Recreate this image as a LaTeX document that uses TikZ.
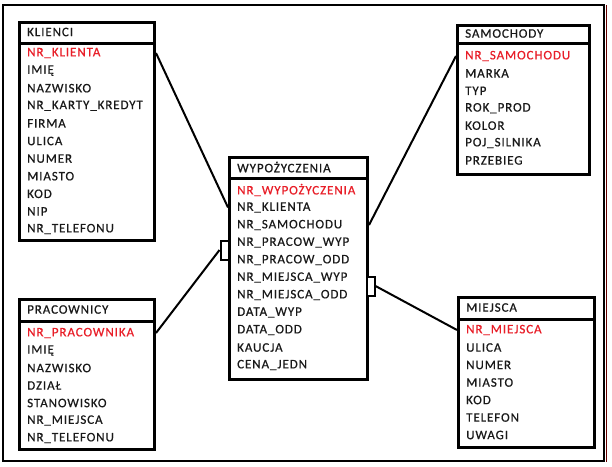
\documentclass[tikz,border=0pt]{standalone}
\usepackage{fontspec}
\setmainfont[FakeBold=0.6, LetterSpace=7]{Carlito}
\usetikzlibrary{calc}
\definecolor{kluczowy}{RGB}{232,30,40}
\tikzset{
  tabela/.style={draw, line width=3pt, inner sep=0pt, anchor=north west},
  pole/.style={anchor=west, inner sep=0pt, font=\fontsize{13}{15}\selectfont, text=black!90},
  klucz/.style={pole, text=kluczowy},
  lacznik/.style={line width=2pt},
  widelki/.style={draw, line width=2pt, fill=white, inner sep=0pt, minimum width=8pt, minimum height=19pt},
}
% tabela: nazwa, x, y, szerokosc, wysokosc, dol naglowka, tytul
\def\tabela(#1)(#2,#3)(#4:#5:#6)#7{%
  \node[tabela, minimum width=#4pt, minimum height=#5pt] (#1) at (#2,#3) {};
  \draw[line width=3pt] (#2,#6) -- ($(#2,#6)+(#4,0)$);
  \node[pole] (#1-t) at ($(#2,#3)+(9,{(#6-#3)/2})$) {#7};}
\begin{document}
\begin{tikzpicture}[x=1pt, y=-1pt]
		%%%%% START %%%%%
		\useasboundingbox (0,0) rectangle (612,466);
		\draw[line width=2pt] (3,5) rectangle (604,461);
		\draw[line width=0.6pt, red!40!black] (606.5,5) -- (606.5,462);
		
		% KLIENCI
		\tabela(kl)(18,21)(135:218:43){KLIENCI}
		\node[klucz] (kl-1) at (27,53) {NR\_KLIENTA};
		\foreach \t [count=\i from 2] in {IMIĘ,NAZWISKO,NR\_KARTY\_KREDYT,FIRMA,ULICA,NUMER,MIASTO,KOD,NIP,NR\_TELEFONU}
			\node[pole] (kl-\i) at (27,{53+(\i-1)*17.6}) {\t};
		
		% SAMOCHODY
		\tabela(sam)(456,24)(132:149:43){SAMOCHODY}
		\node[klucz] (sam-1) at (465,56) {NR\_SAMOCHODU};
		\foreach \t [count=\i from 2] in {MARKA,TYP,ROK\_PROD,KOLOR,POJ\_SILNIKA,PRZEBIEG}
			\node[pole] (sam-\i) at (465,{56+(\i-1)*17.4}) {\t};
		
		% WYPOZYCZENIA
		\tabela(wyp)(228,156)(138:222:178){WYPOŻYCZENIA}
		\node[klucz] (wyp-1) at (237,190) {NR\_WYPOŻYCZENIA};
		\foreach \t [count=\i from 2] in {NR\_KLIENTA,NR\_SAMOCHODU,NR\_PRACOW\_WYP,NR\_PRACOW\_ODD,NR\_MIEJSCA\_WYP,NR\_MIEJSCA\_ODD,DATA\_WYP,DATA\_ODD,KAUCJA,CENA\_JEDN}
			\node[pole] (wyp-\i) at (237,{190+(\i-1)*17.5}) {\t};
		
		% PRACOWNICY
		\tabela(pr)(18,298)(135:150:321){PRACOWNICY}
		\node[klucz] (pr-1) at (27,333) {NR\_PRACOWNIKA};
		\foreach \t [count=\i from 2] in {IMIĘ,NAZWISKO,DZIAŁ,STANOWISKO,NR\_MIEJSCA,NR\_TELEFONU}
			\node[pole] (pr-\i) at (27,{333+(\i-1)*17.5}) {\t};
		
		% MIEJSCA
		\tabela(mi)(457,296)(136:150:319){MIEJSCA}
		\node[klucz] (mi-1) at (466,330) {NR\_MIEJSCA};
		\foreach \t [count=\i from 2] in {ULICA,NUMER,MIASTO,KOD,TELEFON,UWAGI}
			\node[pole] (mi-\i) at (466,{330+(\i-1)*17.5}) {\t};
		
		% polaczenia
		\node[widelki] (w-pr) at (224.5,250) {};
		\node[widelki] (w-mi) at (370.5,286) {};
		\draw[lacznik] (kl.east |- kl-1) -- (wyp.west |- wyp-2);
		\draw[lacznik] (sam.west |- sam-1) -- (wyp.east |- wyp-3);
		\draw[lacznik] (pr.east |- pr-1) -- (w-pr.west);
		\draw[lacznik] (mi.west |- mi-1) -- (w-mi.east);
		%%%%% END %%%%%
\end{tikzpicture}
\end{document}
